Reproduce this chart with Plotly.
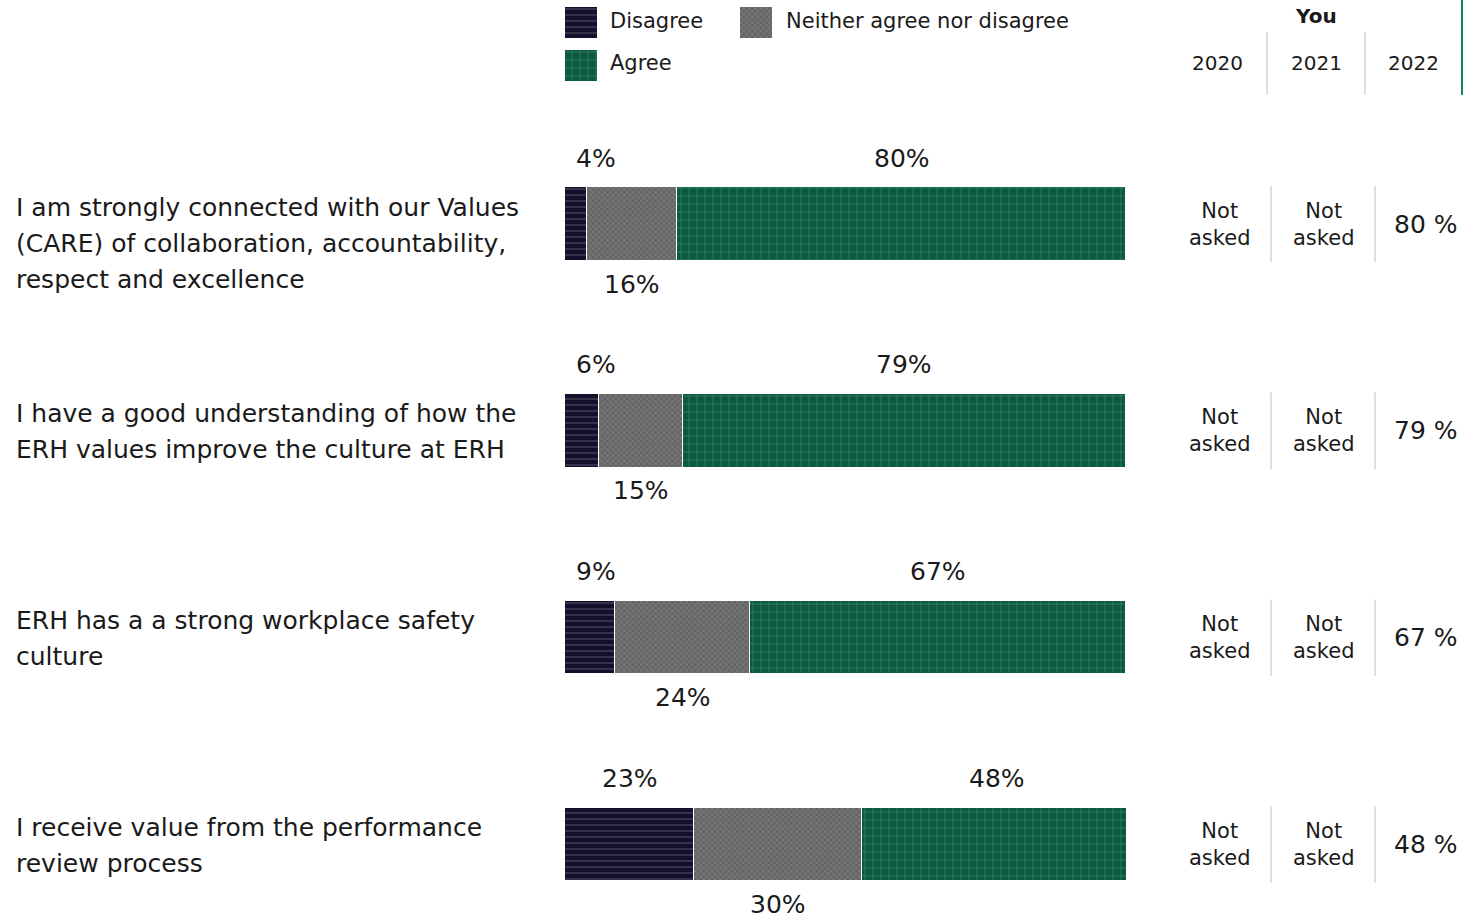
import plotly.graph_objects as go

# Survey statements (wrapped as printed) and response shares (%)
questions = [
    ["I am strongly connected with our Values", "(CARE) of collaboration, accountability,", "respect and excellence"],
    ["I have a good understanding of how the", "ERH values improve the culture at ERH"],
    ["ERH has a a strong workplace safety", "culture"],
    ["I receive value from the performance", "review process"],
]
disagree = [4, 6, 9, 23]
neither = [16, 15, 24, 30]
agree = [80, 79, 67, 48]

years = ["2020", "2021", "2022"]
you_2020 = [None, None, None, None]
you_2021 = [None, None, None, None]
you_2022 = agree

W, H = 1466, 918
FONT = "DejaVu Sans"
TXT = "#1a1a1a"

series = [
    ("Disagree", disagree, dict(color="#14102c", fg="#8c89a0", shape="-", size=6, solidity=0.18)),
    ("Neither agree nor disagree", neither, dict(color="#656567", fg="#a3a3a5", shape="x", size=4, solidity=0.3)),
    ("Agree", agree, dict(color="#0b5a3d", fg="#82b9a1", shape="+", size=8, solidity=0.14)),
]

rows = list(range(len(questions)))
fig = go.Figure()

for name, vals, st in series:
    fig.add_trace(go.Bar(
        x=vals, y=rows, orientation="h", name=name, width=0.355,
        marker=dict(color=st["color"], line=dict(color="white", width=1.5),
                    pattern=dict(shape=st["shape"], fgcolor=st["fg"], bgcolor=st["color"],
                                 size=st["size"], solidity=st["solidity"])),
        showlegend=False, hoverinfo="skip",
    ))


def label(text, x, y, xref, yref, size, **kw):
    base = dict(x=x, y=y, xref=xref, yref=yref, text=text, showarrow=False,
                xanchor="center", yanchor="middle", borderpad=0,
                font=dict(size=size, color=TXT, family=FONT))
    base.update(kw)
    return base


ann = []
for i in rows:
    d, n, a = disagree[i], neither[i], agree[i]
    # segment labels
    ann.append(label(f"{d}%", max(d / 2, 5.5), i, "x", "y", 25, yshift=66))
    ann.append(label(f"{n}%", d + n / 2, i, "x", "y", 25, yshift=-60))
    ann.append(label(f"{a}%", d + n + a / 2, i, "x", "y", 25, yshift=66))
    # statement text, one annotation per line
    for k, line in enumerate(questions[i]):
        ann.append(label(line, 15 / W, i, "paper", "y", 25, xanchor="left", yshift=17 - 36 * k))
    # "You" table cells
    for xc, v in ((1219, you_2020[i]), (1323, you_2021[i])):
        txt = "Not<br>asked" if v is None else f"{v} %"
        ann.append(label(txt, xc / W, i, "paper", "y", 21))
    v = you_2022[i]
    ann.append(label("Not<br>asked" if v is None else f"{v} %", 1426 / W, i, "paper", "y", 25))

# table header
ann.append(label("<b>You</b>", 1316 / W, 1 - 16 / H, "paper", "paper", 20))
for xc, yr in zip((1217, 1316, 1413), years):
    ann.append(label(yr, xc / W, 1 - 63 / H, "paper", "paper", 20))

# legend labels
for (lx, ly), (name, _, _) in zip(((609, 21), (785, 21), (609, 63)), series):
    ann.append(label(name, lx / W, 1 - ly / H, "paper", "paper", 21, xanchor="left"))

# legend swatches drawn on a pixel-space axis pair so they can carry fill patterns
for (sx, sy), (name, _, st) in zip(((565, 7), (740, 7), (565, 50)), series):
    fig.add_trace(go.Scatter(
        x=[sx, sx + 32, sx + 32, sx, sx], y=[sy, sy, sy + 31, sy + 31, sy],
        xaxis="x2", yaxis="y2", mode="lines", line=dict(width=0), fill="toself",
        fillcolor=st["color"],
        fillpattern=dict(shape=st["shape"], fgcolor=st["fg"], bgcolor=st["color"],
                         size=st["size"], solidity=st["solidity"]),
        showlegend=False, hoverinfo="skip",
    ))

shapes = []
for xl in (1267, 1365):
    shapes.append(dict(type="line", xref="paper", yref="paper", x0=xl / W, x1=xl / W,
                       y0=1 - 32 / H, y1=1 - 95 / H, line=dict(color="#d4d4d4", width=1.5)))
shapes.append(dict(type="line", xref="paper", yref="paper", x0=1462 / W, x1=1462 / W,
                   y0=1, y1=1 - 95 / H, line=dict(color="#0a8a4c", width=2)))
for i in rows:
    for xl in (1271, 1375):
        shapes.append(dict(type="line", xref="paper", yref="y", x0=xl / W, x1=xl / W,
                           y0=i - 0.185, y1=i + 0.185, line=dict(color="#d4d4d4", width=1.5)))

ppu = 620.5 / 3  # pixels per row unit
fig.update_layout(
    width=W, height=H, margin=dict(l=0, r=0, t=0, b=0),
    paper_bgcolor="white", plot_bgcolor="rgba(0,0,0,0)", barmode="stack", bargap=0,
    xaxis=dict(domain=[565 / W, 1126 / W], range=[0, 100], visible=False, fixedrange=True, anchor="y"),
    yaxis=dict(domain=[0, 1], range=[3 + (H - 844.5) / ppu, -224 / ppu], visible=False, anchor="x"),
    xaxis2=dict(domain=[0, 1], range=[0, W], visible=False, anchor="y2"),
    yaxis2=dict(domain=[0, 1], range=[H, 0], visible=False, anchor="x2"),
    annotations=ann, shapes=shapes, showlegend=False,
)

fig.write_html("out.html")
